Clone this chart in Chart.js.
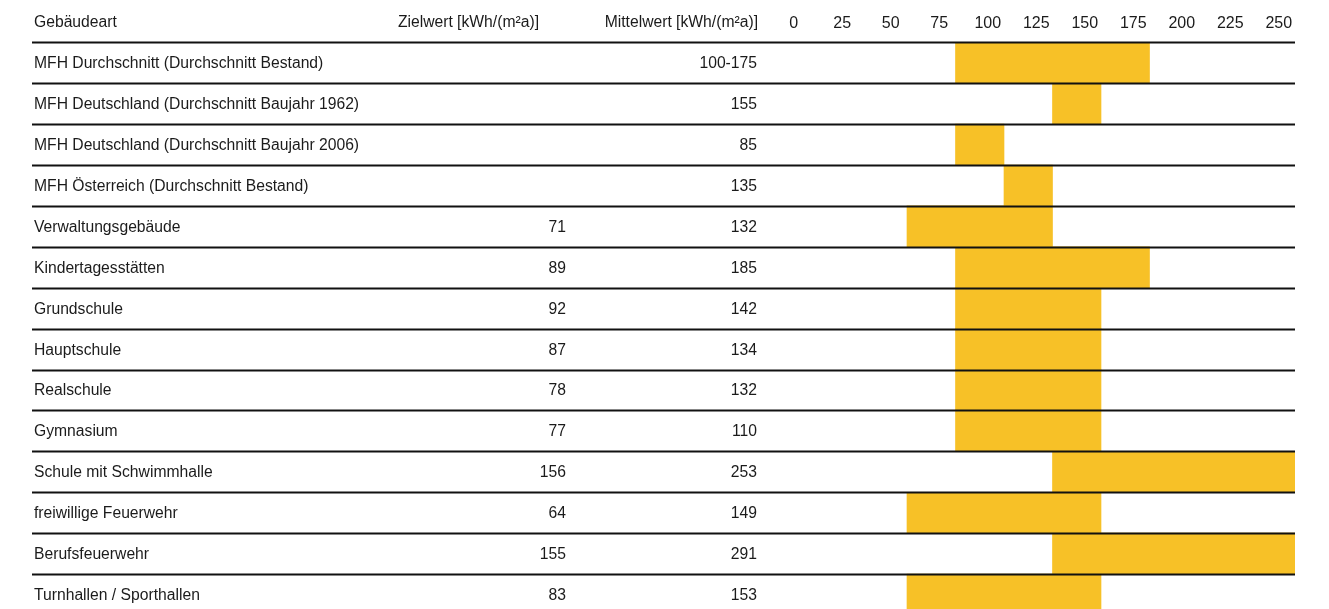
<!DOCTYPE html>
<html lang="de">
<head>
<meta charset="utf-8">
<title>Energiekennwerte Gebäudearten</title>
<script src="https://cdn.jsdelivr.net/npm/chart.js@4/dist/chart.umd.min.js"></script>
<style>
  body { margin: 0; overflow: hidden; background: #fff; }
  #wrap { width: 1329px; height: 615px; }
</style>
</head>
<body>
<div id="wrap"><canvas id="kennwerte" width="1329" height="615"></canvas></div>
<script>
/* -----------------------
table data
-------------------------- */
const gebaeudeart = [
  "MFH Durchschnitt (Durchschnitt Bestand)",
  "MFH Deutschland (Durchschnitt Baujahr 1962)",
  "MFH Deutschland (Durchschnitt Baujahr 2006)",
  "MFH Österreich (Durchschnitt Bestand)",
  "Verwaltungsgebäude",
  "Kindertagesstätten",
  "Grundschule",
  "Hauptschule",
  "Realschule",
  "Gymnasium",
  "Schule mit Schwimmhalle",
  "freiwillige Feuerwehr",
  "Berufsfeuerwehr",
  "Turnhallen / Sporthallen"
];
const zielwert = [null, null, null, null, 71, 89, 92, 87, 78, 77, 156, 64, 155, 83];
const mittelwert = ["100-175", "155", "85", "135", "132", "185", "142", "134", "132", "110", "253", "149", "291", "153"];

// first and last 25er cell covered by each bar
const bandVon = [100, 150, 100, 125, 75, 100, 100, 100, 100, 100, 150, 75, 150, 75];
const bandBis = [175, 150, 100, 125, 125, 175, 150, 150, 150, 150, 250, 150, 250, 150];

const skala = [0, 25, 50, 75, 100, 125, 150, 175, 200, 225, 250];

/* -----------------------
styles
-------------------------- */
const FONT = '16px "Liberation Sans", Arial, sans-serif';
const TEXT_COLOR = "#1b1b1b";
const BAR_COLOR = "#f7c127";
const HALF = 12.5;

// slightly narrowed text, like the original sheet
function drawText(ctx, text, x, y, align) {
  ctx.save();
  ctx.translate(x, y);
  ctx.scale(0.98, 1);
  ctx.textAlign = align;
  ctx.fillText(text, 0, 0);
  ctx.restore();
}

// table columns and rules drawn next to the bar area
const tablePlugin = {
  id: "tablePlugin",
  afterDatasetsDraw(chart) {
    const ctx = chart.ctx;
    const y = chart.scales.y;
    const area = chart.chartArea;
    const rowH = y.getPixelForValue(1) - y.getPixelForValue(0);

    ctx.save();
    ctx.strokeStyle = "#111";
    ctx.lineWidth = 2;
    for (let i = 0; i <= gebaeudeart.length; i++) {
      const ly = Math.round(y.getPixelForValue(i) - rowH / 2) + 0.5;
      ctx.beginPath();
      ctx.moveTo(32, ly);
      ctx.lineTo(area.right, ly);
      ctx.stroke();
    }
    ctx.restore();
  },
  afterDraw(chart) {
    const ctx = chart.ctx;
    const y = chart.scales.y;

    ctx.save();
    ctx.font = FONT;
    ctx.fillStyle = TEXT_COLOR;
    ctx.textBaseline = "middle";

    // header
    drawText(ctx, "Gebäudeart", 34, 22.5, "left");
    drawText(ctx, "Zielwert [kWh/(m²a)]", 539, 22.5, "right");
    drawText(ctx, "Mittelwert [kWh/(m²a)]", 758, 22.5, "right");

    // rows
    gebaeudeart.forEach(function (name, i) {
      const ty = y.getPixelForValue(i) + 1;
      drawText(ctx, name, 34, ty, "left");
      if (zielwert[i] !== null) drawText(ctx, String(zielwert[i]), 566, ty, "right");
      drawText(ctx, mittelwert[i], 757, ty, "right");
    });
    ctx.restore();
  }
};

/* -----------------------
bar chart
-------------------------- */
const canvas = document.getElementById("kennwerte");

new Chart(canvas, {
  type: "bar",
  data: {
    labels: gebaeudeart,
    datasets: [{
      data: bandVon.map((v, i) => [v - HALF, bandBis[i] + HALF]),
      backgroundColor: BAR_COLOR,
      borderWidth: 0,
      barPercentage: 1,
      categoryPercentage: 1
    }]
  },
  options: {
    indexAxis: "y",
    responsive: false,
    animation: false,
    devicePixelRatio: 1,
    layout: { padding: { left: 761.5, right: 34, top: 0, bottom: 0 } },
    plugins: {
      legend: { display: false },
      tooltip: { enabled: false }
    },
    scales: {
      x: {
        position: "top",
        min: -HALF,
        max: 250 + HALF,
        grid: { display: false },
        border: { display: false },
        afterBuildTicks(scale) {
          scale.ticks = skala.map(v => ({ value: v }));
        },
        afterFit(scale) {
          scale.height = 42.3;
        },
        ticks: {
          color: TEXT_COLOR,
          font: { family: '"Liberation Sans", Arial, sans-serif', size: 16 },
          padding: 1,
          labelOffset: 8,
          maxRotation: 0,
          autoSkip: false
        }
      },
      y: {
        display: false,
        offset: true
      }
    }
  },
  plugins: [tablePlugin]
});
</script>
</body>
</html>
